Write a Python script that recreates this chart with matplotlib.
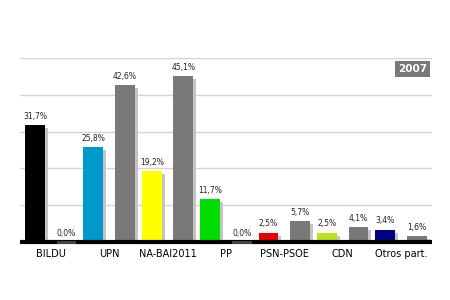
import matplotlib
matplotlib.use('Agg')
import matplotlib.pyplot as plt
import numpy as np

parties = ['BILDU', 'UPN', 'NA-BAI2011', 'PP', 'PSN-PSOE', 'CDN', 'Otros part.']
votes_2011 = [31.7, 25.8, 19.2, 11.7, 2.5, 2.5, 3.4]
votes_2007 = [0.0, 42.6, 45.1, 0.0, 5.7, 4.1, 1.6]
colors_2011 = ['#000000', '#0099cc', '#ffff00', '#00dd00', '#ee0000', '#bbe31b', '#000080']
grey = '#7a7879'

fig = plt.figure(figsize=(4.5, 3), dpi=100)
ax = fig.add_axes([0.044, 0.193, 0.916, 0.614])

x = np.arange(len(parties))
w = 0.34
off = 0.27
dx = 0.05   # shadow offset
dy = 0.8

def fmt(v):
    return ('%.1f%%' % v).replace('.', ',')

for i in range(len(parties)):
    for xc, v, c in [(x[i] - off, votes_2011[i], colors_2011[i]), (x[i] + off, votes_2007[i], grey)]:
        if v > 0:
            ax.bar(xc + dx, max(v - dy, 0), w, color='#c4c4c4', zorder=2)
            ax.bar(xc, v, w, color=c, zorder=3)
        else:
            ax.bar(xc, 0.8, w, bottom=-0.4, color='#444444', zorder=5, clip_on=False)
        ax.text(xc, v + 1.2, fmt(v), ha='center', va='bottom', fontsize=5.5, color='#222222', zorder=6)

ax.plot([-0.53, 6.53], [0, 0], color='black', lw=3, zorder=4, solid_capstyle='butt', clip_on=False)

ax.set_xlim(-0.53, 6.53)
ax.set_ylim(0, 50)
ax.set_yticks([10, 20, 30, 40, 50])
ax.yaxis.grid(True, color='#d4d4d4', lw=1)
ax.set_axisbelow(True)
ax.tick_params(axis='y', left=False, labelleft=False)
ax.set_xticks(x)
ax.set_xticklabels(parties, fontsize=7)
ax.tick_params(axis='x', length=0, pad=5)
for s in ax.spines.values():
    s.set_visible(False)

ax.text(0.988, 0.968, '2007', transform=ax.transAxes, ha='right', va='top', fontsize=7.5,
        fontweight='bold', color='white',
        bbox=dict(boxstyle='square,pad=0.3', fc=grey, ec='none'))

fig.savefig('out.png', dpi=100)
